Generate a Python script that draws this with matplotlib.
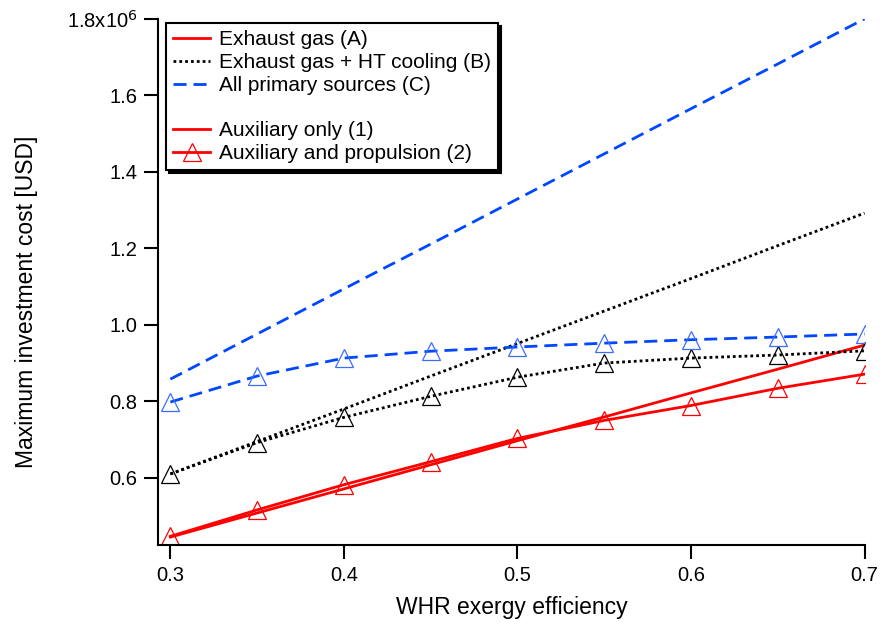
import matplotlib
matplotlib.use("Agg")
import matplotlib.pyplot as plt
from matplotlib.lines import Line2D

plt.rcParams['font.family'] = ['Liberation Sans', 'DejaVu Sans']

efficiency = [0.30, 0.35, 0.40, 0.45, 0.50, 0.55, 0.60, 0.65, 0.70]

# values in millions of USD
a_aux = [0.445, 0.508, 0.571, 0.634, 0.697, 0.759, 0.822, 0.884, 0.947]
a_prop = [0.447, 0.516, 0.582, 0.642, 0.703, 0.750, 0.789, 0.834, 0.871]
b_aux = [0.610, 0.695, 0.780, 0.866, 0.951, 1.036, 1.121, 1.207, 1.292]
b_prop = [0.610, 0.692, 0.758, 0.813, 0.863, 0.900, 0.913, 0.921, 0.932]
c_aux = [0.858, 0.976, 1.094, 1.211, 1.329, 1.447, 1.565, 1.682, 1.800]
c_prop = [0.798, 0.866, 0.913, 0.931, 0.942, 0.952, 0.961, 0.968, 0.976]

y_ticks = [0.6, 0.8, 1.0, 1.2, 1.4, 1.6, 1.8]
y_ticklabels = ['0.6', '0.8', '1.0', '1.2', '1.4', '1.6', '1.8x10$^{6}$']
x_ticks = [0.3, 0.4, 0.5, 0.6, 0.7]

RED = '#ff0000'
BLACK = '#000000'
BLUE = '#0047ff'

DOT = (0, (1, 1.1))
DASH = (0, (4.7, 2.5))

fig = plt.figure(figsize=(8.84, 6.28), dpi=100)
ax = fig.add_axes([0.179, 0.132, 0.799, 0.838])

lw = 2.0
ms = 12.5
mkw = dict(marker='^', markersize=ms, markerfacecolor='none', markeredgewidth=0.9)

ax.plot(efficiency, a_aux, color=RED, lw=lw, ls='-')
ax.plot(efficiency, a_prop, color=RED, lw=lw, ls='-', markeredgecolor=RED, **mkw)
ax.plot(efficiency, b_aux, color=BLACK, lw=lw, ls=DOT)
ax.plot(efficiency, b_prop, color=BLACK, lw=lw, ls=DOT, markeredgecolor=BLACK, **mkw)
ax.plot(efficiency, c_aux, color=BLUE, lw=lw, ls=DASH)
ax.plot(efficiency, c_prop, color=BLUE, lw=lw, ls=DASH, markeredgecolor='#3a6cff', **mkw)

ax.set_xlim(0.293, 0.7)
ax.set_ylim(0.424, 1.8)
ax.set_xticks(x_ticks)
ax.set_xticklabels([f'{v:.1f}' for v in x_ticks])
ax.set_yticks(y_ticks)
ax.set_yticklabels(y_ticklabels)

for s in ['top', 'right']:
    ax.spines[s].set_visible(False)
for s in ['left', 'bottom']:
    ax.spines[s].set_linewidth(1.5)
ax.tick_params(direction='out', length=10, width=1.5, labelsize=14.5, pad=5)

ax.set_xlabel('WHR exergy efficiency', fontsize=16.5)
ax.set_ylabel('Maximum investment cost [USD]', fontsize=16.5)
ax.xaxis.set_label_coords(0.5, -0.097)
ax.yaxis.set_label_coords(-0.170, 0.462)

handles = [
    Line2D([], [], color=RED, lw=lw, ls='-'),
    Line2D([], [], color=BLACK, lw=lw, ls=DOT),
    Line2D([], [], color=BLUE, lw=lw, ls=DASH),
    Line2D([], [], color='none'),
    Line2D([], [], color=RED, lw=lw, ls='-'),
    Line2D([], [], color=RED, lw=lw, ls='-', markeredgecolor=RED, **mkw),
]
labels = ['Exhaust gas (A)', 'Exhaust gas + HT cooling (B)', 'All primary sources (C)', ' ',
          'Auxiliary only (1)', 'Auxiliary and propulsion (2)']
leg = ax.legend(handles, labels, loc='upper left', bbox_to_anchor=(0.011, 0.992),
                fontsize=15.0, frameon=True, fancybox=False,
                shadow={'color': 'black', 'alpha': 1.0, 'ox': 2, 'oy': -2},
                handlelength=1.75, handletextpad=0.45, labelspacing=0.18, borderpad=0.35,
                borderaxespad=0.0)
leg.get_frame().set_edgecolor('black')
leg.get_frame().set_linewidth(1.5)

fig.savefig('out.png', dpi=100)
